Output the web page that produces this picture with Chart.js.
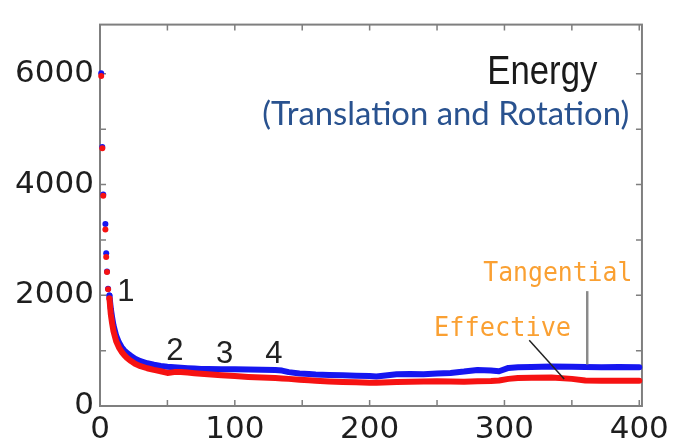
<!DOCTYPE html>
<html>
<head>
<meta charset="utf-8">
<title>Energy</title>
<script src="https://cdn.jsdelivr.net/npm/chart.js@4.4.1/dist/chart.umd.min.js"></script>
<style>
  html, body { margin: 0; padding: 0; background: #fff; }
  canvas { display: block; }
</style>
</head>
<body>
<canvas id="chartEnergy" width="674" height="441"></canvas>
<script>
// iteration number (shared by both series)
const iters = [
  0.9, 1.7, 2.4, 4, 4.6, 5.2, 6, 7,
  8, 9, 10, 12, 14, 16, 18, 20,
  23, 26, 30, 35, 40, 45, 50, 55,
  60, 65, 70, 75, 80, 90, 100, 110,
  120, 130, 135, 140, 148, 155, 160, 170,
  180, 190, 200, 205, 210, 220, 230, 240,
  250, 260, 270, 280, 290, 296, 303, 310,
  320, 335, 350, 360, 372, 385, 400
];

const tangential = [
  6010, 4680, 3820, 3290, 2760, 2430, 2120, 1995,
  1760, 1600, 1460, 1270, 1150, 1065, 1005, 960,
  905, 855, 810, 772, 745, 722, 708, 700,
  692, 684, 676, 670, 668, 662, 666, 660,
  656, 652, 640, 612, 588, 578, 570, 562,
  556, 548, 540, 534, 548, 572, 576, 572,
  585, 598, 622, 652, 640, 628, 688, 700,
  706, 714, 710, 704, 698, 706, 700
];

const effective = [
  5960, 4655, 3800, 3190, 2690, 2420, 2110, 1940,
  1660, 1490, 1350, 1170, 1060, 980, 920, 870,
  812, 762, 720, 682, 652, 628, 598, 612,
  615, 604, 592, 582, 572, 556, 540, 526,
  516, 505, 498, 490, 476, 464, 456, 444,
  434, 428, 422, 420, 424, 432, 438, 442,
  448, 444, 440, 446, 452, 462, 490, 505,
  510, 515, 490, 462, 456, 455, 455
];

const xTickLabels = [0, 100, 200, 300, 400];
const yTickLabels = [0, 2000, 4000, 6000];
const xTickMarks = [0, 50, 100, 150, 200, 250, 300, 350, 400];
const yTickMarks = [0, 1000, 2000, 3000, 4000, 5000, 6000];

const N_DOTS = 8; // first iterations are shown as separate dots

const BLUE = "rgb(22,22,240)";
const RED = "rgb(246,18,18)";
const ORANGE = "rgb(250,160,50)";

// text drawn on the plot, placed in data coordinates (x, baseline y)
const notes = [
  { text: "1", x: 19.2, y: 1900, font: "31px 'Liberation Sans Narrow', sans-serif", color: "#222", align: "center" },
  { text: "2", x: 55.5, y: 840, font: "31px 'Liberation Sans Narrow', sans-serif", color: "#222", align: "center" },
  { text: "3", x: 92.5, y: 775, font: "31px 'Liberation Sans Narrow', sans-serif", color: "#222", align: "center" },
  { text: "4", x: 129, y: 775, font: "31px 'Liberation Sans Narrow', sans-serif", color: "#222", align: "center" },
  { text: "Energy", x: 287.3, y: 5808, font: "40px 'Liberation Sans Narrow', sans-serif", color: "#1a1a1a", width: 110 },
  { text: "(Translation and Rotation)", x: 120.3, y: 5075, font: "32px Lato, 'Open Sans', sans-serif", color: "#29528f", width: 367 },
  { text: "Tangential", x: 284.3, y: 2250, font: "26px 'DejaVu Sans Mono', monospace", color: ORANGE, width: 149 },
  { text: "Effective", x: 247.8, y: 1273, font: "26px 'DejaVu Sans Mono', monospace", color: ORANGE, width: 137 }
];

// leader lines from the labels to their curves
const leaders = [
  { x1: 361.4, y1: 2075, x2: 361.4, y2: 750, color: "#8a8a8a", width: 2.5 },
  { x1: 318.4, y1: 1186, x2: 344.3, y2: 488, color: "#222", width: 1.5 }
];

function toPoints(ys) {
  return iters.map((x, i) => ({ x: x, y: ys[i] }));
}

function series(label, ys, color) {
  return {
    label: label,
    data: toPoints(ys),
    showLine: true,
    clip: 6,
    borderColor: color,
    backgroundColor: color,
    borderWidth: 6,
    borderCapStyle: "round",
    borderJoinStyle: "round",
    tension: 0,
    pointRadius: ctx => ctx.dataIndex < N_DOTS ? 3 : 0,
    pointBorderWidth: 0,
    segment: {
      borderColor: ctx => ctx.p1DataIndex < N_DOTS ? "transparent" : undefined
    }
  };
}

// box around the plot with inward ticks on all four sides (under the data)
const frameTicks = {
  id: "frameTicks",
  beforeDatasetsDraw(chart) {
    const { ctx, chartArea: a, scales } = chart;
    const len = 6;
    ctx.save();
    ctx.strokeStyle = "#7f7f7f";
    ctx.lineWidth = 1.5;
    ctx.beginPath();
    xTickMarks.forEach(v => {
      const px = scales.x.getPixelForValue(v);
      ctx.moveTo(px, a.bottom); ctx.lineTo(px, a.bottom - len);
      ctx.moveTo(px, a.top); ctx.lineTo(px, a.top + len);
    });
    yTickMarks.forEach(v => {
      const py = scales.y.getPixelForValue(v);
      ctx.moveTo(a.left, py); ctx.lineTo(a.left + len, py);
      ctx.moveTo(a.right, py); ctx.lineTo(a.right - len, py);
    });
    ctx.stroke();
    ctx.lineWidth = 2;
    ctx.strokeRect(a.left, a.top, a.right - a.left, a.bottom - a.top);
    ctx.restore();
  }
};

const annotations = {
  id: "annotations",
  afterDraw(chart) {
    const { ctx, scales } = chart;
    ctx.save();
    leaders.forEach(l => {
      ctx.strokeStyle = l.color;
      ctx.lineWidth = l.width;
      ctx.beginPath();
      ctx.moveTo(scales.x.getPixelForValue(l.x1), scales.y.getPixelForValue(l.y1));
      ctx.lineTo(scales.x.getPixelForValue(l.x2), scales.y.getPixelForValue(l.y2));
      ctx.stroke();
    });
    notes.forEach(n => {
      const px = scales.x.getPixelForValue(n.x);
      const py = scales.y.getPixelForValue(n.y);
      ctx.font = n.font;
      ctx.fillStyle = n.color;
      ctx.textBaseline = "alphabetic";
      ctx.textAlign = n.align || "left";
      ctx.save();
      ctx.translate(px, py);
      if (n.width) {
        const m = ctx.measureText(n.text).width;
        ctx.scale(n.width / m, 1);
      }
      ctx.fillText(n.text, 0, 0);
      ctx.restore();
    });
    ctx.restore();
  }
};

const tickFont = { family: "'DejaVu Sans', sans-serif", size: 31 };

new Chart(document.getElementById("chartEnergy"), {
  type: "scatter",
  data: {
    datasets: [
      series("Effective", effective, RED),
      series("Tangential", tangential, BLUE)
    ]
  },
  options: {
    responsive: false,
    animation: false,
    devicePixelRatio: 1,
    layout: { padding: { top: 11, right: 31, left: 0, bottom: 0 } },
    plugins: {
      legend: { display: false },
      tooltip: { enabled: false }
    },
    scales: {
      x: {
        type: "linear",
        min: 0,
        max: 402,
        afterFit: s => { s.height = 35; },
        afterBuildTicks: s => { s.ticks = xTickLabels.map(v => ({ value: v })); },
        grid: { display: false, drawTicks: false },
        border: { display: false },
        ticks: { font: tickFont, color: "#1e1e1e", padding: 5, maxRotation: 0, autoSkip: false, callback: v => String(v) }
      },
      y: {
        type: "linear",
        min: 0,
        max: 6890,
        afterFit: s => { s.width = 100; },
        afterBuildTicks: s => { s.ticks = yTickLabels.map(v => ({ value: v })); },
        grid: { display: false, drawTicks: false },
        border: { display: false },
        ticks: { font: tickFont, color: "#1e1e1e", padding: 6, autoSkip: false, callback: v => String(v) }
      }
    }
  },
  plugins: [frameTicks, annotations]
});
</script>
</body>
</html>
